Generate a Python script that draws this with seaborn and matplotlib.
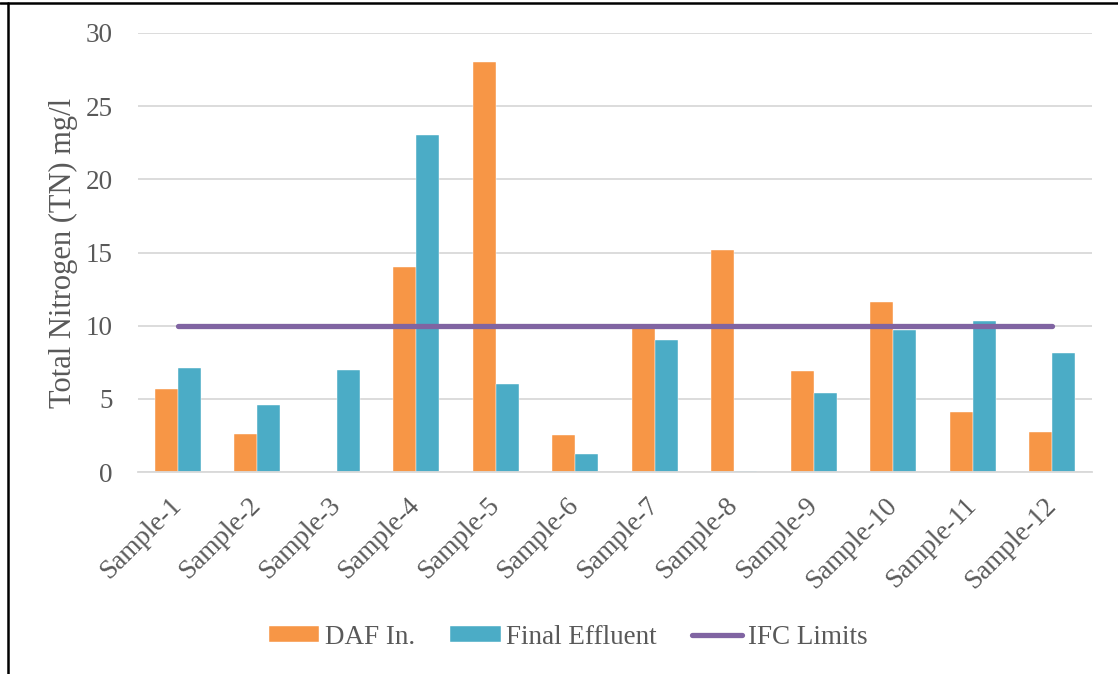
import matplotlib
matplotlib.use("Agg")
import matplotlib.pyplot as plt
from matplotlib.lines import Line2D
from matplotlib.transforms import ScaledTranslation
import seaborn as sns
import pandas as pd

# Total nitrogen per sample (mg/l)
samples = [f"Sample-{i}" for i in range(1, 13)]
daf_in = [5.7, 2.6, 0.0, 14.0, 28.0, 2.5, 10.0, 15.2, 6.9, 11.6, 4.1, 2.7]
final_effluent = [7.1, 4.6, 7.0, 23.0, 6.0, 1.2, 9.0, 0.1, 5.4, 9.7, 10.3, 8.1]
ifc_limits = [10] * 12
series_names = ["DAF In.", "Final Effluent"]
y_ticks = [0, 5, 10, 15, 20, 25, 30]

colors = {"DAF In.": "#F79646", "Final Effluent": "#4BACC6"}
line_color = "#8064A2"
text_color = "#595959"
grid_color = "#D9D9D9"

df = pd.DataFrame({
    "Sample": samples * 2,
    "Series": [series_names[0]] * 12 + [series_names[1]] * 12,
    "TN": daf_in + final_effluent,
})

sns.set_theme(style="white")
plt.rcParams["font.family"] = ["Liberation Serif", "DejaVu Serif"]

fig = plt.figure(figsize=(11.18, 6.74), dpi=100)
ax = fig.add_axes([138 / 1118, 1 - 472 / 674, (1092 - 138) / 1118, (472 - 33) / 674])

sns.barplot(data=df, x="Sample", y="TN", hue="Series", hue_order=series_names,
            order=samples, palette=colors, saturation=1, width=0.58, gap=0,
            edgecolor="white", linewidth=0.3, errorbar=None, ax=ax, zorder=2)

sns.lineplot(x=samples, y=ifc_limits, sort=False, color=line_color, linewidth=3.8,
             solid_capstyle="round", ax=ax, zorder=3, label="IFC Limits")

ax.set_xlim(-0.5, 11.5)
ax.set_ylim(0, 30)
ax.set_yticks(y_ticks)
ax.yaxis.grid(True, color=grid_color, linewidth=1.3, zorder=0)
ax.set_axisbelow(True)
for side in ["top", "right", "left"]:
    ax.spines[side].set_visible(False)
ax.spines["bottom"].set_color(grid_color)
ax.spines["bottom"].set_linewidth(1.3)
ax.tick_params(axis="both", length=0, colors=text_color, labelsize=19.5)
ax.tick_params(axis="y", pad=18)
ax.tick_params(axis="x", pad=15)
shift = ScaledTranslation(-9 / 100, 0, fig.dpi_scale_trans)
for lbl in ax.get_xticklabels():
    lbl.set_rotation(45)
    lbl.set_ha("right")
    lbl.set_rotation_mode("anchor")
    lbl.set_transform(lbl.get_transform() + shift)

ax.set_xlabel("")
ax.set_ylabel("Total Nitrogen (TN) mg/l", fontsize=22, color=text_color, labelpad=6)

handles, labels = ax.get_legend_handles_labels()
ax.get_legend().remove()
fig.legend(handles, labels, loc="center", bbox_to_anchor=(568.5 / 1118, 1 - 637 / 674),
           ncol=3, frameon=False, fontsize=19.5, labelcolor=text_color,
           handlelength=1.85, handleheight=0.55, columnspacing=1.3, handletextpad=0.22)

# frame edges along the top and left of the figure
fig.add_artist(Line2D([0, 1], [1 - 3 / 674, 1 - 3 / 674], color="black", linewidth=1.8,
                      transform=fig.transFigure))
fig.add_artist(Line2D([8 / 1118, 8 / 1118], [0, 1 - 3 / 674], color="black", linewidth=1.8,
                      transform=fig.transFigure))

fig.savefig("out.png", dpi=100, facecolor="white")
